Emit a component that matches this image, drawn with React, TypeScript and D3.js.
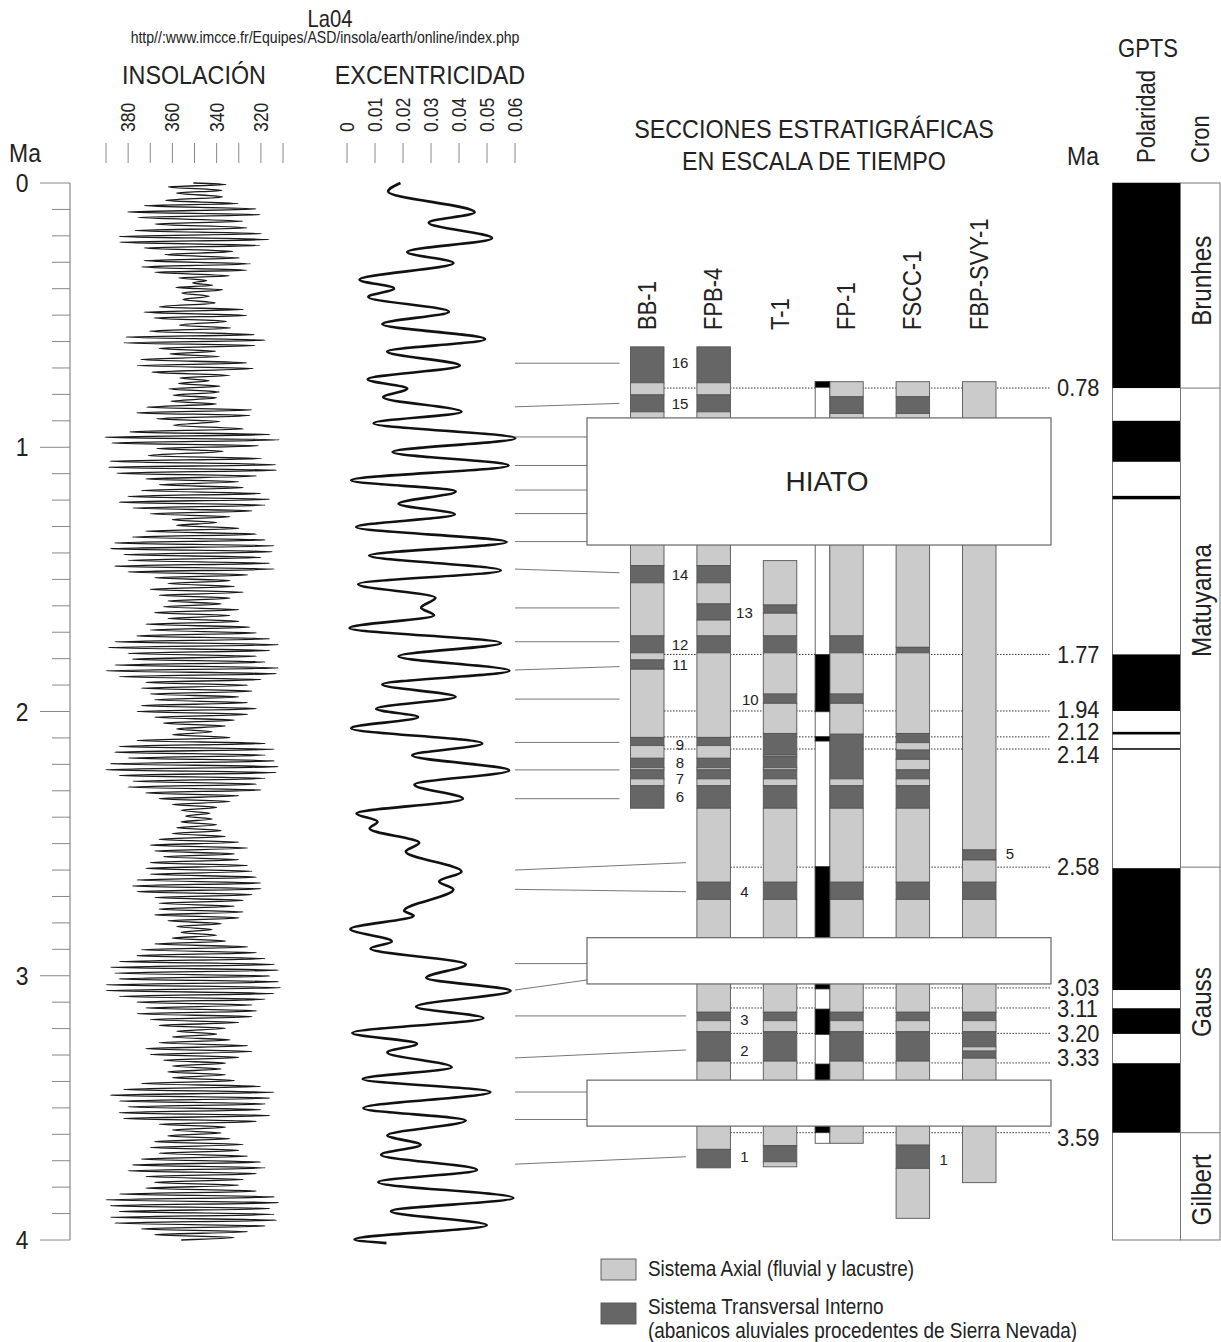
import React from "react";
import * as d3 from "d3";

const FONT = "'Liberation Sans',Arial,sans-serif";
const NARROW = 0.88;

// ---------- axes ----------
const ageTicks = [0, 1, 2, 3, 4];
const insolationTicks = [390, 380, 370, 360, 350, 340, 330, 320, 310];
const insolationLabels = [380, 360, 340, 320];
const eccentricityTicks = [0, 0.01, 0.02, 0.03, 0.04, 0.05, 0.06];

// ---------- La04 insolation (age Ma, W/m2) : extrema ----------
const insolation: [number, number][] = [
  [0.000, 350.5], [0.006, 335.8], [0.015, 361.8], [0.028, 337.7], [0.038, 358.1], [0.053, 337.3], [0.066, 363.0], [0.078, 330.2],
  [0.086, 372.7], [0.098, 322.2], [0.110, 380.2], [0.120, 320.4], [0.130, 375.7], [0.145, 328.2], [0.155, 367.9], [0.170, 326.4],
  [0.180, 376.9], [0.192, 319.6], [0.202, 384.0], [0.214, 316.2], [0.224, 383.7], [0.236, 320.4], [0.246, 372.8], [0.259, 332.7],
  [0.271, 363.6], [0.284, 329.7], [0.294, 372.8], [0.306, 324.6], [0.318, 373.9], [0.330, 326.4], [0.338, 367.9], [0.351, 334.3],
  [0.359, 357.3], [0.369, 344.5], [0.378, 350.8], [0.387, 341.8], [0.395, 358.4], [0.404, 337.3], [0.416, 355.8], [0.429, 343.3],
  [0.441, 355.3], [0.454, 340.7], [0.469, 365.9], [0.479, 327.9], [0.489, 372.8], [0.501, 326.4], [0.511, 368.3], [0.523, 335.5],
  [0.538, 356.8], [0.549, 333.6], [0.561, 370.4], [0.574, 323.1], [0.583, 381.0], [0.595, 318.1], [0.605, 381.9], [0.615, 322.7],
  [0.626, 366.0], [0.637, 340.5], [0.647, 361.1], [0.657, 338.5], [0.668, 374.3], [0.681, 326.4], [0.691, 376.1], [0.702, 323.4],
  [0.716, 369.3], [0.728, 334.0], [0.738, 356.6], [0.748, 343.3], [0.759, 357.3], [0.769, 338.5], [0.779, 361.8], [0.791, 338.8],
  [0.803, 359.6], [0.813, 340.0], [0.826, 360.6], [0.836, 340.0], [0.849, 371.6], [0.859, 324.1], [0.870, 376.1], [0.880, 324.9],
  [0.892, 367.1], [0.902, 338.5], [0.917, 359.6], [0.931, 327.9], [0.942, 379.2], [0.952, 315.9], [0.962, 390.5], [0.972, 311.7],
  [0.984, 387.4], [0.994, 321.2], [1.005, 367.1], [1.015, 337.0], [1.032, 370.9], [1.043, 319.6], [1.053, 388.2], [1.066, 313.2],
  [1.076, 388.9], [1.087, 313.0], [1.098, 385.0], [1.109, 322.0], [1.120, 372.0], [1.131, 330.0], [1.142, 366.0], [1.153, 328.0],
  [1.164, 374.0], [1.175, 320.0], [1.186, 380.0], [1.197, 316.0], [1.208, 384.0], [1.219, 318.0], [1.230, 378.0], [1.241, 324.0],
  [1.252, 370.0], [1.263, 334.0], [1.274, 360.0], [1.285, 340.0], [1.296, 358.0], [1.307, 330.0], [1.318, 372.0], [1.329, 322.0],
  [1.340, 378.0], [1.351, 318.0], [1.362, 386.0], [1.373, 314.0], [1.384, 388.0], [1.395, 315.0], [1.406, 382.0], [1.417, 320.0],
  [1.428, 380.0], [1.439, 316.0], [1.450, 386.0], [1.461, 314.0], [1.472, 380.0], [1.483, 326.0], [1.494, 368.0], [1.505, 334.0],
  [1.516, 362.0], [1.527, 332.0], [1.538, 370.0], [1.549, 328.0], [1.560, 366.0], [1.571, 334.0], [1.582, 362.0], [1.593, 338.0],
  [1.604, 364.0], [1.615, 330.0], [1.626, 368.0], [1.637, 334.0], [1.648, 362.0], [1.659, 330.0], [1.670, 372.0], [1.681, 325.0],
  [1.692, 370.0], [1.703, 322.0], [1.714, 376.0], [1.725, 316.0], [1.736, 386.0], [1.747, 312.0], [1.758, 389.0], [1.769, 316.0],
  [1.780, 380.0], [1.791, 322.0], [1.802, 378.0], [1.813, 318.0], [1.824, 386.0], [1.835, 312.0], [1.846, 390.0], [1.857, 313.0],
  [1.868, 384.0], [1.879, 320.0], [1.890, 372.0], [1.901, 326.0], [1.912, 374.0], [1.923, 324.0], [1.934, 370.0], [1.945, 330.0],
  [1.956, 368.0], [1.967, 326.0], [1.978, 374.0], [1.989, 322.0], [2.000, 376.0], [2.011, 326.0], [2.022, 368.0], [2.033, 332.0],
  [2.044, 364.0], [2.055, 336.0], [2.066, 358.0], [2.077, 342.0], [2.088, 360.0], [2.099, 334.0], [2.110, 376.0], [2.121, 318.0],
  [2.132, 384.0], [2.143, 314.0], [2.154, 386.0], [2.165, 318.0], [2.176, 380.0], [2.187, 314.0], [2.198, 388.0], [2.209, 312.0],
  [2.220, 390.0], [2.231, 313.0], [2.242, 384.0], [2.253, 318.0], [2.264, 378.0], [2.275, 322.0], [2.286, 380.0], [2.297, 320.0],
  [2.308, 372.0], [2.319, 330.0], [2.330, 366.0], [2.341, 334.0], [2.352, 360.0], [2.363, 340.0], [2.374, 356.0], [2.385, 343.0],
  [2.396, 354.0], [2.407, 342.0], [2.418, 356.0], [2.429, 340.0], [2.440, 358.0], [2.451, 338.0], [2.462, 360.0], [2.473, 336.0],
  [2.484, 366.0], [2.495, 330.0], [2.506, 370.0], [2.517, 326.0], [2.528, 368.0], [2.539, 332.0], [2.550, 364.0], [2.561, 330.0],
  [2.572, 370.0], [2.583, 326.0], [2.594, 372.0], [2.605, 324.0], [2.616, 370.0], [2.627, 322.0], [2.638, 376.0], [2.649, 320.0],
  [2.660, 378.0], [2.671, 320.0], [2.682, 376.0], [2.693, 324.0], [2.704, 368.0], [2.715, 328.0], [2.726, 366.0], [2.737, 332.0],
  [2.748, 366.0], [2.759, 328.0], [2.770, 368.0], [2.781, 330.0], [2.792, 362.0], [2.803, 338.0], [2.814, 358.0], [2.825, 342.0],
  [2.836, 356.0], [2.847, 340.0], [2.858, 360.0], [2.869, 336.0], [2.880, 368.0], [2.891, 326.0], [2.902, 374.0], [2.913, 322.0],
  [2.924, 376.0], [2.935, 318.0], [2.946, 384.0], [2.957, 314.0], [2.968, 388.0], [2.979, 312.0], [2.990, 386.0], [3.001, 316.0],
  [3.012, 384.0], [3.023, 312.0], [3.034, 390.0], [3.045, 311.0], [3.056, 390.0], [3.067, 314.0], [3.078, 384.0], [3.089, 318.0],
  [3.100, 376.0], [3.111, 324.0], [3.122, 372.0], [3.133, 322.0], [3.144, 376.0], [3.155, 324.0], [3.166, 370.0], [3.177, 330.0],
  [3.188, 366.0], [3.199, 336.0], [3.210, 358.0], [3.221, 340.0], [3.232, 360.0], [3.243, 334.0], [3.254, 366.0], [3.265, 326.0],
  [3.276, 372.0], [3.287, 324.0], [3.298, 370.0], [3.309, 330.0], [3.320, 364.0], [3.331, 336.0], [3.342, 360.0], [3.353, 338.0],
  [3.364, 362.0], [3.375, 336.0], [3.386, 360.0], [3.397, 332.0], [3.408, 374.0], [3.419, 320.0], [3.430, 382.0], [3.441, 314.0],
  [3.452, 388.0], [3.463, 316.0], [3.474, 384.0], [3.485, 318.0], [3.496, 380.0], [3.507, 320.0], [3.518, 384.0], [3.529, 316.0],
  [3.540, 382.0], [3.551, 322.0], [3.562, 366.0], [3.573, 336.0], [3.584, 360.0], [3.595, 338.0], [3.606, 362.0], [3.617, 334.0],
  [3.628, 368.0], [3.639, 328.0], [3.650, 370.0], [3.661, 330.0], [3.672, 366.0], [3.683, 326.0], [3.694, 374.0], [3.705, 320.0],
  [3.716, 378.0], [3.727, 318.0], [3.738, 380.0], [3.749, 322.0], [3.760, 372.0], [3.771, 328.0], [3.782, 368.0], [3.793, 330.0],
  [3.804, 372.0], [3.815, 322.0], [3.826, 384.0], [3.837, 314.0], [3.848, 390.0], [3.859, 312.0], [3.870, 388.0], [3.881, 316.0],
  [3.892, 384.0], [3.903, 314.0], [3.914, 388.0], [3.925, 313.0], [3.936, 386.0], [3.947, 318.0], [3.958, 374.0], [3.969, 326.0],
  [3.980, 368.0], [3.991, 332.0], [4.000, 356.0],
];

// ---------- La04 eccentricity (age Ma, value) ----------
const eccentricity: [number, number][] = [
  [0.000, 0.0191], [0.032, 0.0147], [0.111, 0.0456], [0.150, 0.0292], [0.209, 0.0518], [0.261, 0.0215], [0.303, 0.0380],
  [0.366, 0.0045], [0.399, 0.0168], [0.431, 0.0076], [0.487, 0.0364], [0.534, 0.0126], [0.591, 0.0493], [0.638, 0.0143],
  [0.691, 0.0403], [0.743, 0.0074], [0.778, 0.0215], [0.811, 0.0129], [0.866, 0.0409], [0.909, 0.0095], [0.966, 0.0601],
  [1.018, 0.0163], [1.069, 0.0577], [1.125, 0.0015], [1.167, 0.0388], [1.214, 0.0184], [1.254, 0.0385], [1.302, 0.0033],
  [1.359, 0.0570], [1.410, 0.0079], [1.466, 0.0549], [1.518, 0.0040], [1.570, 0.0316], [1.607, 0.0265], [1.636, 0.0311],
  [1.684, 0.0009], [1.741, 0.0549], [1.791, 0.0184], [1.846, 0.0580], [1.898, 0.0126], [1.944, 0.0388], [1.990, 0.0104],
  [2.021, 0.0254], [2.063, 0.0015], [2.121, 0.0483], [2.166, 0.0233], [2.223, 0.0579], [2.277, 0.0241], [2.330, 0.0414],
  [2.386, 0.0034], [2.417, 0.0109], [2.443, 0.0081], [2.497, 0.0258], [2.530, 0.0210], [2.606, 0.0409], [2.643, 0.0329],
  [2.674, 0.0380], [2.754, 0.0204], [2.773, 0.0238], [2.823, 0.0012], [2.870, 0.0160], [2.897, 0.0084], [2.957, 0.0424],
  [3.008, 0.0283], [3.057, 0.0584], [3.117, 0.0247], [3.160, 0.0487], [3.217, 0.0019], [3.257, 0.0250], [3.290, 0.0144],
  [3.346, 0.0374], [3.391, 0.0056], [3.440, 0.0512], [3.501, 0.0059], [3.548, 0.0424], [3.604, 0.0144], [3.640, 0.0263],
  [3.677, 0.0122], [3.735, 0.0464], [3.781, 0.0112], [3.841, 0.0594], [3.891, 0.0157], [3.944, 0.0499], [3.998, 0.0027],
  [4.012, 0.0141],
];

// ---------- stratigraphic sections (top Ma, base Ma, A = axial, T = transversal) ----------
const sections = ["BB-1", "FPB-4", "T-1", "FP-1", "FSCC-1", "FBP-SVY-1"];
type Layer = [number, number, "A" | "T"];
const layersBB1: Layer[] = [
  [0.620, 0.756, "T"], [0.756, 0.802, "A"], [0.802, 0.866, "T"], [0.866, 1.448, "A"], [1.448, 1.513, "T"], [1.513, 1.714, "A"],
  [1.714, 1.778, "T"], [1.778, 1.805, "A"], [1.805, 1.840, "T"], [1.840, 2.098, "A"], [2.098, 2.129, "T"], [2.129, 2.177, "A"],
  [2.177, 2.213, "T"], [2.213, 2.221, "A"], [2.221, 2.255, "T"], [2.255, 2.281, "A"], [2.281, 2.366, "T"],
];
const layersFPB4: Layer[] = [
  [0.620, 0.756, "T"], [0.756, 0.802, "A"], [0.802, 0.866, "T"], [0.866, 1.448, "A"], [1.448, 1.513, "T"], [1.513, 1.593, "A"],
  [1.593, 1.654, "T"], [1.654, 1.714, "A"], [1.714, 1.778, "T"], [1.778, 2.098, "A"], [2.098, 2.129, "T"], [2.129, 2.177, "A"],
  [2.177, 2.213, "T"], [2.213, 2.221, "A"], [2.221, 2.255, "T"], [2.255, 2.281, "A"], [2.281, 2.366, "T"], [2.366, 2.646, "A"],
  [2.646, 2.711, "T"], [2.711, 3.138, "A"], [3.138, 3.170, "T"], [3.170, 3.212, "A"], [3.212, 3.323, "T"], [3.323, 3.657, "A"],
  [3.657, 3.727, "T"],
];
const layersT1: Layer[] = [
  [1.429, 1.597, "A"], [1.597, 1.628, "T"], [1.628, 1.714, "A"], [1.714, 1.778, "T"], [1.778, 1.934, "A"], [1.934, 1.969, "T"],
  [1.969, 2.083, "A"], [2.083, 2.165, "T"], [2.165, 2.171, "A"], [2.171, 2.213, "T"], [2.213, 2.221, "A"], [2.221, 2.255, "T"],
  [2.255, 2.281, "A"], [2.281, 2.366, "T"], [2.366, 2.646, "A"], [2.646, 2.711, "T"], [2.711, 3.138, "A"], [3.138, 3.170, "T"],
  [3.170, 3.212, "A"], [3.212, 3.323, "T"], [3.323, 3.643, "A"], [3.643, 3.704, "T"], [3.704, 3.723, "A"],
];
const layersFP1: Layer[] = [
  [0.752, 0.809, "A"], [0.809, 0.872, "T"], [0.872, 1.714, "A"], [1.714, 1.778, "T"], [1.778, 1.934, "A"], [1.934, 1.969, "T"],
  [1.969, 2.086, "A"], [2.086, 2.255, "T"], [2.255, 2.281, "A"], [2.281, 2.366, "T"], [2.366, 2.646, "A"], [2.646, 2.711, "T"],
  [2.711, 3.138, "A"], [3.138, 3.170, "T"], [3.170, 3.212, "A"], [3.212, 3.323, "T"], [3.323, 3.634, "A"],
];
const layersFSCC1: Layer[] = [
  [0.752, 0.809, "A"], [0.809, 0.872, "T"], [0.872, 1.757, "A"], [1.757, 1.778, "T"], [1.778, 2.083, "A"], [2.083, 2.118, "T"],
  [2.118, 2.146, "A"], [2.146, 2.181, "T"], [2.181, 2.221, "A"], [2.221, 2.255, "T"], [2.255, 2.281, "A"], [2.281, 2.366, "T"],
  [2.366, 2.646, "A"], [2.646, 2.711, "T"], [2.711, 3.138, "A"], [3.138, 3.170, "T"], [3.170, 3.212, "A"], [3.212, 3.323, "T"],
  [3.323, 3.641, "A"], [3.641, 3.729, "T"], [3.729, 3.918, "A"],
];
const layersFBPSVY1: Layer[] = [
  [0.752, 2.524, "A"], [2.524, 2.562, "T"], [2.562, 2.646, "A"], [2.646, 2.711, "T"], [2.711, 3.138, "A"], [3.138, 3.170, "T"],
  [3.170, 3.212, "A"], [3.212, 3.269, "T"], [3.269, 3.285, "A"], [3.285, 3.312, "T"], [3.312, 3.783, "A"],
];
const sectionLayers = [layersBB1, layersFPB4, layersT1, layersFP1, layersFSCC1, layersFBPSVY1];

// FP-1 magnetostratigraphy: extent and normal-polarity intervals
const fp1MagExtent: [number, number] = [0.752, 3.634];
const fp1Normal: [number, number][] = [
  [0.752, 0.773], [1.784, 2.001], [2.095, 2.112], [2.587, 3.050], [3.126, 3.222], [3.334, 3.594],
];

// numbered events: [label, section index, side, age]
const eventLabels: [string, number, "r" | "l", number][] = [
  ["16", 0, "r", 0.681], ["15", 0, "r", 0.836], ["14", 0, "r", 1.483], ["13", 1, "r", 1.626], ["12", 0, "r", 1.748],
  ["11", 0, "r", 1.824], ["10", 2, "l", 1.953], ["9", 0, "r", 2.124], ["8", 0, "r", 2.192], ["7", 0, "r", 2.255],
  ["6", 0, "r", 2.322], ["5", 5, "r", 2.539], ["4", 1, "r", 2.682], ["3", 1, "r", 3.165], ["2", 1, "r", 3.281],
  ["1", 1, "r", 3.685], ["1", 4, "r", 3.695],
];

// hiatus intervals (Ma)
const hiatuses: [number, number][] = [[0.889, 1.370], [2.856, 3.031], [3.395, 3.569]];

// correlation lines: [age at curve side, age at section side, target section index or -1 = hiatus box]
const correlations: [number, number, number][] = [
  [0.682, 0.682, 0], [0.847, 0.834, 0], [0.961, 0.961, -1], [1.069, 1.069, -1], [1.162, 1.162, -1], [1.251, 1.251, -1],
  [1.357, 1.357, -1], [1.461, 1.475, 0], [1.608, 1.608, 0], [1.736, 1.736, 0], [1.843, 1.830, 0], [1.953, 1.953, 0],
  [2.117, 2.117, 0], [2.221, 2.221, 0], [2.330, 2.330, 0], [2.600, 2.572, 1], [2.673, 2.682, 1], [2.954, 2.954, -1],
  [3.054, 3.016, -1], [3.152, 3.152, 1], [3.311, 3.281, 1], [3.440, 3.440, -1], [3.544, 3.544, -1], [3.713, 3.685, 1],
];

// GPTS reference ages (label, drawn position Ma, dotted line starts after section index)
const refLabels = ["0.78", "1.77", "1.94", "2.12", "2.14", "2.58", "3.03", "3.11", "3.20", "3.33", "3.59"];
const refPositions = [0.776, 1.784, 1.998, 2.096, 2.142, 2.589, 3.046, 3.122, 3.218, 3.330, 3.594];
const refStartAfter = [0, 0, 0, 0, 0, 1, 1, 1, 1, 1, 1];
const refLabelShift = [0, 0, -1, -5, 6, 0, 0, 1, 0, -5, 5];

const gptsNormal: [number, number][] = [
  [0, 0.776], [0.900, 1.055], [1.184, 1.197], [1.784, 1.998], [2.077, 2.087], [2.139, 2.143],
  [2.593, 3.054], [3.123, 3.220], [3.331, 3.594],
];
const chronNames = ["Brunhes", "Matuyama", "Gauss", "Gilbert"];
const chronBounds = [0, 0.776, 2.589, 3.594, 4];
const chronLabelAt = [0.37, 1.58, 3.10, 3.81];

const legendItems: [string, string[]][] = [
  ["A", ["Sistema Axial (fluvial y lacustre)"]],
  ["T", ["Sistema Transversal Interno", "(abanicos aluviales procedentes de Sierra Nevada)"]],
];

const LIGHT = "#cbcbcb";
const DARK = "#666666";
const TXT = "#222";

type TP = { x: number; y: number; size: number; anchor?: string; rot?: boolean; sx?: number; mid?: boolean; children: React.ReactNode };
function T({ x, y, size, anchor = "middle", rot = false, sx = NARROW, mid = false, children }: TP) {
  const tr = `translate(${x},${y})${rot ? " rotate(-90)" : ""} scale(${sx},1)`;
  return (
    <text transform={tr} textAnchor={anchor} dominantBaseline={mid || rot ? "central" : "auto"} fontSize={size} fill={TXT}>
      {children}
    </text>
  );
}

export default function App() {
  const y = d3.scaleLinear().domain([0, 4]).range([183, 1240]);
  const xIns = d3.scaleLinear().domain([390, 310]).range([106, 283]);
  const xEcc = d3.scaleLinear().domain([0, 0.06]).range([347, 515]);
  const xCol = d3.scalePoint<string>().domain(sections).range([630.5, 962.5]);
  const colW = 33.5;
  const hiatoX0 = 587, hiatoX1 = 1051;
  const corrX0 = 515;

  const insPath = d3.line<[number, number]>().x(d => xIns(d[1])).y(d => y(d[0])).curve(d3.curveMonotoneY)(insolation) || "";
  const eccPath = d3.line<[number, number]>().x(d => xEcc(d[1])).y(d => y(d[0])).curve(d3.curveMonotoneY)(eccentricity) || "";
  const minorTicks = y.ticks(40).filter(t => Math.abs(t - Math.round(t)) > 1e-6);

  const fp1X = xCol("FP-1")!;
  const magW = 14.5;
  const gX0 = 1112.5, gX1 = 1180.5, gX2 = 1220;

  return (
    <svg width={1221} height={1342} style={{ position: "absolute", left: 0, top: 0, background: "#fff" }} fontFamily={FONT}>
      <rect x={0} y={0} width={1221} height={1342} fill="#fff" />
      {/* headers */}
      <T x={330} y={27} size={23}>La04</T>
      <T x={325} y={43} size={16}>http//:www.imcce.fr/Equipes/ASD/insola/earth/online/index.php</T>
      <T x={194} y={84} size={26.5}>INSOLACIÓN</T>
      <T x={430} y={84} size={26.5}>EXCENTRICIDAD</T>
      <T x={25} y={162} size={26}>Ma</T>
      <T x={814} y={138} size={26.5}>SECCIONES ESTRATIGRÁFICAS</T>
      <T x={814} y={170} size={26.5}>EN ESCALA DE TIEMPO</T>
      <T x={1083} y={165} size={26}>Ma</T>
      <T x={1148} y={57} size={25}>GPTS</T>
      <T x={1147} y={163} size={25} rot anchor="start">Polaridad</T>
      <T x={1201} y={163} size={25} rot anchor="start">Cron</T>

      {/* insolation axis */}
      {insolationTicks.map(t => <line key={"it" + t} x1={xIns(t)} x2={xIns(t)} y1={143} y2={163} stroke="#888" strokeWidth={1} />)}
      {insolationLabels.map(t => <T key={"il" + t} x={xIns(t)} y={132} size={20} rot anchor="start">{String(t)}</T>)}
      {/* eccentricity axis */}
      {eccentricityTicks.map(t => <line key={"et" + t} x1={xEcc(t)} x2={xEcc(t)} y1={143} y2={163} stroke="#888" strokeWidth={1} />)}
      {eccentricityTicks.map(t => <T key={"el" + t} x={xEcc(t)} y={132} size={20} rot anchor="start">{t === 0 ? "0" : t.toFixed(2)}</T>)}

      {/* age axis */}
      <line x1={70} x2={70} y1={y(0)} y2={y(4)} stroke="#888" strokeWidth={1.2} />
      {minorTicks.map(t => <line key={"mt" + t} x1={52} x2={70} y1={y(t)} y2={y(t)} stroke="#888" strokeWidth={1} />)}
      {ageTicks.map(t => <line key={"at" + t} x1={40} x2={70} y1={y(t)} y2={y(t)} stroke="#888" strokeWidth={1} />)}
      {ageTicks.map(t => <T key={"al" + t} x={22} y={y(t)} size={26} mid>{t}</T>)}

      {/* curves */}
      <path d={insPath} fill="none" stroke="#1a1a1a" strokeWidth={1.3} />
      <path d={eccPath} fill="none" stroke="#111" strokeWidth={2.6} />

      {/* correlation lines */}
      {correlations.map((c, i) => {
        const x2 = c[2] < 0 ? hiatoX0 : xCol(sections[c[2]])! - 11;
        return <line key={"cl" + i} x1={corrX0} y1={y(c[0])} x2={x2} y2={y(c[1])} stroke="#777" strokeWidth={1} />;
      })}

      {/* dotted reference lines */}
      {refPositions.map((p, i) => (
        <line key={"rl" + i} x1={xCol(sections[refStartAfter[i]])! + colW} x2={hiatoX1} y1={y(p)} y2={y(p)} stroke="#333" strokeWidth={1} strokeDasharray="1.5,1.5" />
      ))}

      {/* sections */}
      {sectionLayers.map((layers, si) => {
        const x0 = xCol(sections[si])!;
        return (
          <g key={"s" + si}>
            {layers.map((l, li) => (
              <rect key={li} x={x0} y={y(l[0])} width={colW} height={y(l[1]) - y(l[0])} fill={l[2] === "A" ? LIGHT : DARK} stroke="#555" strokeWidth={0.9} />
            ))}
          </g>
        );
      })}
      {/* FP-1 magnetostratigraphy */}
      <rect x={fp1X - magW} y={y(fp1MagExtent[0])} width={magW} height={y(fp1MagExtent[1]) - y(fp1MagExtent[0])} fill="#fff" stroke="#555" strokeWidth={0.9} />
      {fp1Normal.map((n, i) => (
        <rect key={"mg" + i} x={fp1X - magW} y={y(n[0])} width={magW} height={y(n[1]) - y(n[0])} fill="#000" stroke="#333" strokeWidth={0.8} />
      ))}

      {/* section names */}
      {sections.map(s => <T key={"sn" + s} x={xCol(s)! + colW / 2} y={330} size={25} rot anchor="start">{s}</T>)}

      {/* hiatus boxes */}
      {hiatuses.map((h, i) => (
        <rect key={"h" + i} x={hiatoX0} y={y(h[0])} width={hiatoX1 - hiatoX0} height={y(h[1]) - y(h[0])} fill="#fff" stroke="#666" strokeWidth={1.2} />
      ))}
      <T x={827} y={y((hiatuses[0][0] + hiatuses[0][1]) / 2)} size={28} sx={1} mid>HIATO</T>

      {/* event numbers */}
      {eventLabels.map((e, i) => {
        const x0 = xCol(sections[e[1]])!;
        const x = e[2] === "r" ? x0 + colW + (e[1] === 0 ? 16 : 14) : x0 - 13;
        return <T key={"ev" + i} x={x} y={y(e[3])} size={15} sx={1} mid>{e[0]}</T>;
      })}

      {/* reference labels */}
      {refLabels.map((l, i) => (
        <T key={"rt" + i} x={1057} y={y(refPositions[i]) + refLabelShift[i]} size={23.5} sx={0.93} anchor="start" mid>{l}</T>
      ))}

      {/* GPTS */}
      <rect x={gX0} y={y(0)} width={gX1 - gX0} height={y(4) - y(0)} fill="#fff" stroke="#777" strokeWidth={1} />
      {gptsNormal.map((n, i) => (
        <rect key={"gp" + i} x={gX0} y={y(n[0])} width={gX1 - gX0} height={Math.max(1.5, y(n[1]) - y(n[0]))} fill="#000" />
      ))}
      <rect x={gX1} y={y(0)} width={gX2 - gX1} height={y(4) - y(0)} fill="none" stroke="#777" strokeWidth={1} />
      {chronBounds.slice(1, -1).map((b, i) => (
        <line key={"cb" + i} x1={gX1} x2={gX2} y1={y(b)} y2={y(b)} stroke="#777" strokeWidth={1} />
      ))}
      {chronNames.map((c, i) => <T key={"cn" + c} x={1201} y={y(chronLabelAt[i])} size={27.5} rot>{c}</T>)}

      {/* legend */}
      {legendItems.map((it, i) => (
        <g key={"lg" + i}>
          <rect x={601} y={1259 + i * 44} width={35} height={21} fill={it[0] === "A" ? LIGHT : DARK} stroke="#555" strokeWidth={0.9} />
          {it[1].map((t, j) => (
            <T key={j} x={648} y={1276 + i * 38 + j * 24} size={21.5} anchor="start">{t}</T>
          ))}
        </g>
      ))}
    </svg>
  );
}
